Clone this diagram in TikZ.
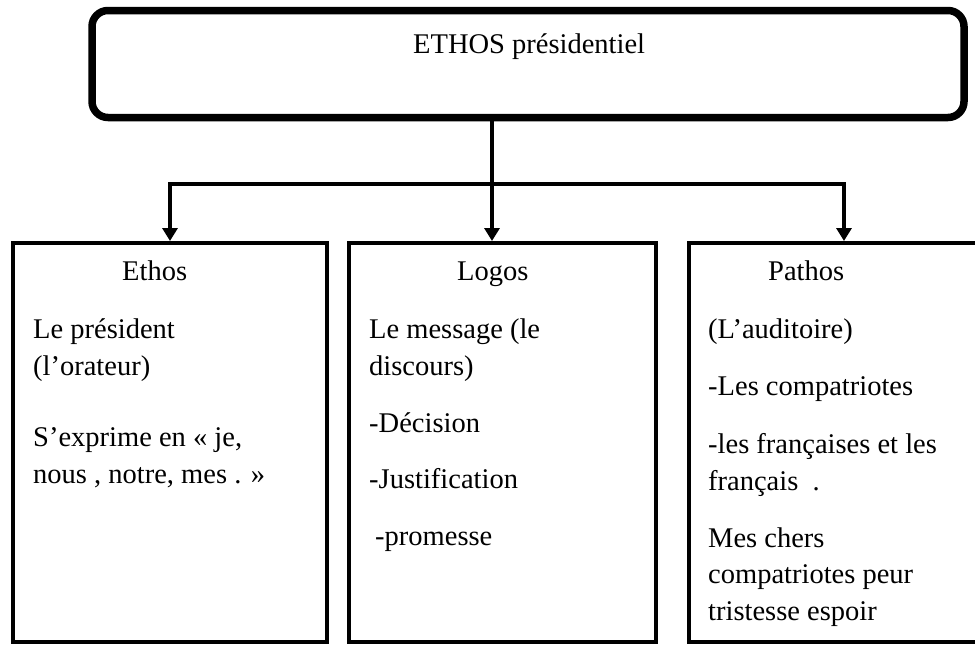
\documentclass[tikz,border=0pt]{standalone}
\usepackage{fontspec}
\setmainfont{Liberation Serif}
\usetikzlibrary{arrows.meta}

\begin{document}
\begin{tikzpicture}[x=1pt,y=-1pt,
  txt/.style={anchor=base west,inner sep=0pt,font=\fontsize{28.5}{34}\selectfont},
  colbox/.style={draw,line width=4pt,minimum height=399pt,inner sep=0pt},
  link/.style={line width=3.5pt,-{Triangle[width=15pt,length=13pt]}}]
 \useasboundingbox (0,0) rectangle (975,645);
 \clip (0,0) rectangle (975,645);
 % top box
 \node[draw,line width=7.5pt,rounded corners=16pt,minimum width=872pt,minimum height=107pt,inner sep=0pt] (top) at (528,64) {};
 \node[txt] (toptxt) at (413,53) {ETHOS présidentiel};
 % the three columns
 \node[colbox,minimum width=314pt] (ethos) at (170,442.5) {};
 \node[colbox,minimum width=307pt] (logos) at (502,442.5) {};
 \node[colbox,minimum width=310pt] (pathos) at (844,442.5) {};
 % connectors
 \coordinate (hub) at (492,184);
 \draw[link] (top.south -| hub) -- (hub |- logos.north);
 \draw[link] (hub) -| (ethos.north);
 \draw[link] (hub) -| (pathos.north);
 % Ethos
 \node[txt] (e0) at (122,280) {Ethos};
 \node[txt] (e1) at (33,338) {Le président};
 \node[txt] (e2) at (33,375) {(l’orateur)};
 \node[txt] (e3) at (33,446) {S’exprime en « je,};
 \node[txt] (e4) at (33,483) {nous , notre, mes . »};
 % Logos
 \node[txt] (l0) at (457,280) {Logos};
 \node[txt] (l1) at (369,338) {Le message (le};
 \node[txt] (l2) at (369,375) {discours)};
 \node[txt] (l3) at (369,432) {-Décision};
 \node[txt] (l4) at (369,488) {-Justification};
 \node[txt] (l5) at (375,545) {-promesse};
 % Pathos
 \node[txt] (p0) at (768,280) {Pathos};
 \node[txt] (p1) at (708,338) {(L’auditoire)};
 \node[txt] (p2) at (708,395) {-Les compatriotes};
 \node[txt] (p3) at (708,453) {-les françaises et les};
 \node[txt] (p4) at (708,490) {français\ \ .};
 \node[txt] (p5) at (708,547) {Mes chers};
 \node[txt] (p6) at (708,583) {compatriotes peur};
 \node[txt] (p7) at (708,620) {tristesse espoir};
\end{tikzpicture}
\end{document}
